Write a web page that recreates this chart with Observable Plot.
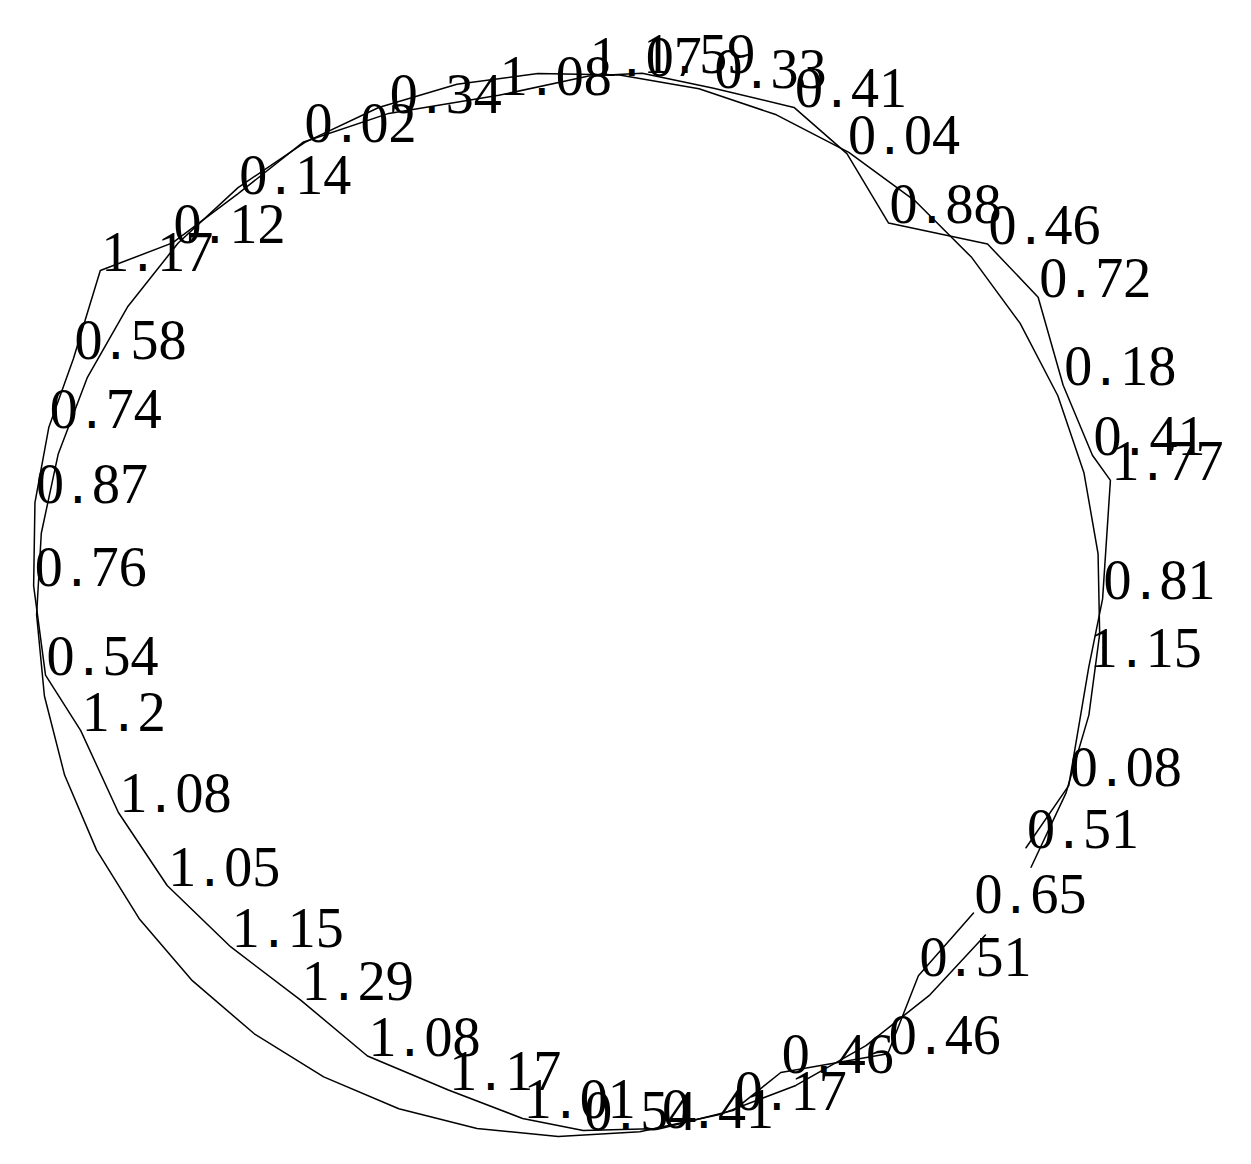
<!DOCTYPE html>
<html>
<head>
<meta charset="utf-8">
<script src="https://cdn.jsdelivr.net/npm/d3@7"></script>
<script src="https://cdn.jsdelivr.net/npm/@observablehq/plot@0.6"></script>
<style>
@font-face { font-family: "LabelDot"; src: local("DejaVu Sans Mono"); unicode-range: U+002E; size-adjust: 83%; }
html, body { margin: 0; padding: 0; background: #fff; }
</style>
</head>
<body>
<div id="chart"></div>
<script>
// Measured profile: label value, bearing (deg, clockwise from top), radius (reference circle = 100)
const labels = [0.65, 0.51, 0.46, 0.46, 0.17, 0.41, 0.54, 1.01, 1.17, 1.08,
                1.29, 1.15, 1.05, 1.08, 1.2, 0.54, 0.76, 0.87, 0.74, 0.58,
                1.17, 0.12, 0.14, 0.02, 0.34, 1.08, 1.07, 1.59, 0.33, 0.41,
                0.04, 0.88, 0.46, 0.72, 0.18, 0.41, 1.77, 0.81, 1.15, 0.08, 0.51];
const measuredAngle = [127.3, 136.7, 144.6, 155.6, 161.9, 170.0, 178.4, 185.1, 193.9, 204.0,
                       214.1, 224.6, 235.0, 245.2, 255.5, 262.3, 272.0, 280.8, 288.8, 296.4,
                       305.5, 312.4, 321.2, 330.2, 339.9, 352.2, 362.2, 367.9, 375.7, 384.4,
                       391.7, 400.0, 409.3, 416.8, 426.1, 434.1, 437.1, 449.4, 456.9, 469.9, 478.0];
const measuredRadius = [95.7, 95.9, 103.6, 96.6, 100.0, 100.0, 98.9, 97.0, 94.0, 92.9,
                        89.8, 90.4, 92.1, 93.2, 94.7, 99.2, 100.6, 102.1, 103.2, 103.9,
                        108.1, 100.8, 99.1, 100.2, 98.3, 96.6, 99.4, 100.8, 100.8, 102.6,
                        99.6, 93.6, 103.9, 105.5, 101.7, 102.4, 104.5, 100.4, 98.5, 100.0, 97.4];

// Reference circle: bearings of its 41 vertices and its radius
const referenceAngle = [128.4, 137.2, 146.0, 154.7, 163.5, 172.3, 181.1, 189.9, 198.6, 207.4,
                        216.2, 225.0, 233.8, 242.5, 251.3, 260.1, 268.9, 277.7, 286.4, 295.2,
                        304.0, 312.8, 321.6, 330.3, 339.1, 347.9, 356.7, 365.5, 374.2, 383.0,
                        391.8, 400.6, 409.3, 418.1, 426.9, 435.7, 444.5, 453.2, 462.0, 470.8, 479.6];
const referenceRadius = 100;

const rad = Math.PI / 180;
const polar = (a, r) => ({x: r * Math.sin(a * rad), y: r * Math.cos(a * rad)});
const measured = labels.map((label, i) => ({label, ...polar(measuredAngle[i], measuredRadius[i])}));
const reference = referenceAngle.map((a) => polar(a, referenceRadius));

const W = 1251, H = 1164;
const cx = 568, cy = 604, unit = 5.32; // layout: centre and pixels per radius unit

const chart = Plot.plot({
  width: W,
  height: H,
  margin: 0,
  x: {domain: [-cx / unit, (W - cx) / unit], axis: null},
  y: {domain: [-(H - cy) / unit, cy / unit], axis: null},
  marks: [
    Plot.line(reference, {x: "x", y: "y", stroke: "black", strokeWidth: 1.5}),
    Plot.line(measured, {x: "x", y: "y", stroke: "black", strokeWidth: 1.5}),
    Plot.text(measured, {
      x: "x", y: "y", text: (d) => String(d.label),
      textAnchor: "start", lineAnchor: "bottom", dx: 1,
      fontSize: 56, fontFamily: '"LabelDot", "Liberation Serif", serif', fill: "black"
    })
  ]
});
document.getElementById("chart").appendChild(chart);
</script>
</body>
</html>
